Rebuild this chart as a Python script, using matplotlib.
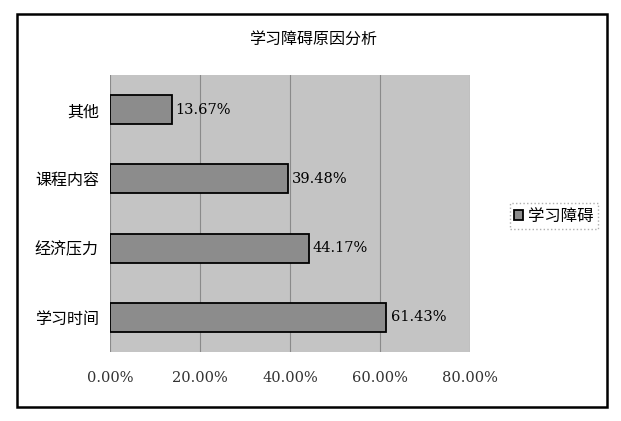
import matplotlib
matplotlib.use("Agg")
import matplotlib.pyplot as plt
from matplotlib.patches import Rectangle
from matplotlib.ticker import FuncFormatter

plt.rcParams["font.family"] = ["Noto Sans CJK SC", "DejaVu Sans"]

categories = ["学习时间", "经济压力", "课程内容", "其他"]
values = [61.43, 44.17, 39.48, 13.67]
x_ticks = [0, 20, 40, 60, 80]
title = "学习障碍原因分析"
series_name = "学习障碍"

W, H = 621, 421
fig = plt.figure(figsize=(W / 100, H / 100), dpi=100)
fig.patch.set_facecolor("white")

# outer chart frame
fig.patches.append(Rectangle((17 / W, 1 - 407 / H), 590 / W, 393 / H,
                             transform=fig.transFigure, fill=False,
                             edgecolor="black", linewidth=1.8))

ax = fig.add_axes([110 / W, 1 - 352 / H, 360 / W, 277 / H])
ax.set_facecolor("#c4c4c4")
ypos = range(len(categories))
bars = ax.barh(ypos, values, height=0.42, color="#8c8c8c",
               edgecolor="black", linewidth=1.3, label=series_name, zorder=3)
ax.set_xlim(0, 80)
ax.set_ylim(-0.5, len(categories) - 0.5)
ax.set_xticks(x_ticks)
ax.xaxis.set_major_formatter(FuncFormatter(lambda v, p: f"{v:.2f}%"))
ax.set_yticks(list(ypos))
ax.set_yticklabels(categories, fontsize=11.5)
ax.tick_params(axis="both", length=0)
ax.tick_params(axis="x", pad=14, labelsize=10.5)
ax.tick_params(axis="y", pad=8)
for lbl in ax.get_xticklabels():
    lbl.set_family(["DejaVu Serif"])
    lbl.set_color("#333333")
ax.grid(axis="x", color="#8a8a8a", linewidth=0.8, zorder=1)
for s in ax.spines.values():
    s.set_visible(False)

for b, v in zip(bars, values):
    ax.annotate(f"{v:.2f}%", (b.get_width(), b.get_y() + b.get_height() / 2),
                xytext=(3, 0), textcoords="offset points", va="center",
                ha="left", fontsize=10.5, family=["DejaVu Serif"], zorder=4)

fig.text(313 / W, 1 - 40 / H, title, ha="center", va="center", fontsize=11.5)

leg = fig.legend(loc="center left", bbox_to_anchor=(507 / W, 1 - 216 / H),
                 fontsize=11.8, handlelength=0.55, handleheight=0.55,
                 handletextpad=0.3, borderpad=0.25, borderaxespad=0.2,
                 fancybox=False)
leg.get_frame().set_edgecolor("#9a9a9a")
leg.get_frame().set_linestyle(":")
leg.get_frame().set_linewidth(1.0)

fig.savefig("out.png", dpi=100)
